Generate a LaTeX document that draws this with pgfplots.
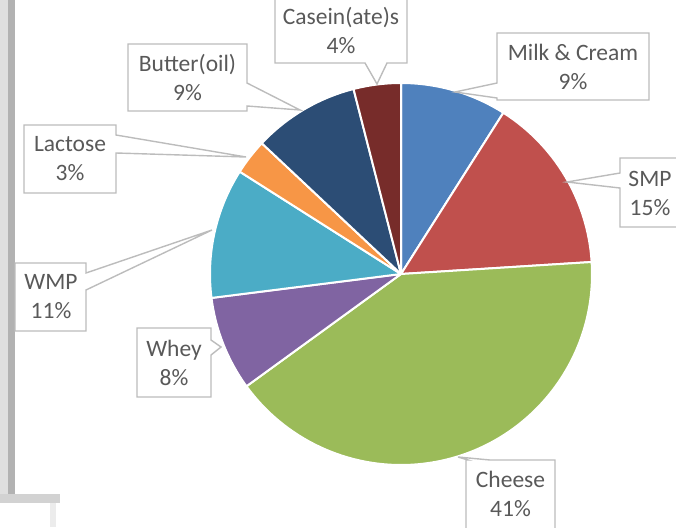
\documentclass[border=0pt]{standalone}
\usepackage{pgfplots}
\pgfplotsset{compat=1.18}
\usepackage{fontspec}
\setmainfont{Carlito}
\definecolor{milk}{HTML}{4F81BD}
\definecolor{smp}{HTML}{C0504D}
\definecolor{cheese}{HTML}{9BBB59}
\definecolor{whey}{HTML}{8064A2}
\definecolor{wmp}{HTML}{4BACC6}
\definecolor{lactose}{HTML}{F79646}
\definecolor{butter}{HTML}{2C4D75}
\definecolor{casein}{HTML}{772C2A}
\definecolor{lbltxt}{HTML}{595959}
\definecolor{lblbrd}{HTML}{BCBCBC}
\begin{document}
\begin{tikzpicture}
\begin{axis}[
  scale only axis, width=676pt, height=527pt,
  xmin=0, xmax=676, ymin=0, ymax=527, y dir=reverse,
  hide axis, clip=true,
]
% left gray frame remnants
\fill[gray!25] (axis cs:0,0) rectangle (axis cs:8,500);
\fill[gray!60] (axis cs:8,0) rectangle (axis cs:15,500);
\fill[gray!35] (axis cs:0,494) rectangle (axis cs:60,503);
\fill[gray!15] (axis cs:50,503) rectangle (axis cs:56,527);
\fill[white] (axis cs:0,503) rectangle (axis cs:50,527);
% pie slices (values in percent, clockwise from 12 o'clock)
\xdef\cum{0}
\foreach \v/\c in {9/milk,15/smp,41/cheese,8/whey,11/wmp,3/lactose,9/butter,4/casein}{
  \pgfmathsetmacro\a{90-3.6*\cum}
  \pgfmathsetmacro\b{90-3.6*(\cum+\v)}
  \edef\temp{\noexpand\fill[\c, draw=white, line width=2pt, line join=round] (axis cs:401,274) -- ++(\a:191pt) arc[start angle=\a, end angle=\b, radius=191pt] -- cycle;}
  \temp
  \pgfmathsetmacro\n{\cum+\v}
  \xdef\cum{\n}
}
% callouts
\tikzset{co/.style={fill=white, draw=lblbrd, line width=1.4pt, line join=miter}}
\tikzset{lb/.style={text=lbltxt, align=center, font=\fontsize{23.5}{29}\selectfont, inner sep=0pt}}
% Casein
\draw[co] (axis cs:275,-3) -- (axis cs:407,-3) -- (axis cs:407,63) -- (axis cs:387,63) -- (axis cs:377,84) -- (axis cs:365,63) -- (axis cs:275,63) -- cycle;
\node[lb] at (axis cs:341,31) {Casein(ate)s\\4\%};
% Milk & Cream
\draw[co] (axis cs:497,33) -- (axis cs:649,33) -- (axis cs:649,100) -- (axis cs:497,100) -- (axis cs:497,98) -- (axis cs:455,92) -- (axis cs:497,83) -- cycle;
\node[lb] at (axis cs:573,67) {Milk \& Cream\\9\%};
% SMP
\draw[co] (axis cs:620,158) -- (axis cs:685,158) -- (axis cs:685,227) -- (axis cs:620,227) -- (axis cs:620,188) -- (axis cs:567,182) -- (axis cs:620,173) -- cycle;
\node[lb] at (axis cs:650,193) {SMP\\15\%};
% Cheese
\draw[co] (axis cs:466,460) -- (axis cs:468,460) -- (axis cs:458,457) -- (axis cs:490,460) -- (axis cs:555,460) -- (axis cs:555,535) -- (axis cs:466,535) -- cycle;
\node[lb] at (axis cs:510.5,494) {Cheese\\41\%};
% Whey
\draw[co] (axis cs:137,328) -- (axis cs:211,328) -- (axis cs:211,340) -- (axis cs:221,347) -- (axis cs:211,355) -- (axis cs:211,397) -- (axis cs:137,397) -- cycle;
\node[lb] at (axis cs:174,363) {Whey\\8\%};
% WMP
\draw[co] (axis cs:15,263) -- (axis cs:86,263) -- (axis cs:86,273) -- (axis cs:212,230) -- (axis cs:86,290) -- (axis cs:86,331) -- (axis cs:15,331) -- cycle;
\node[lb] at (axis cs:51,297) {WMP\\11\%};
% Lactose
\draw[co] (axis cs:24,125) -- (axis cs:116,125) -- (axis cs:116,135) -- (axis cs:246,157) -- (axis cs:116,153) -- (axis cs:116,193) -- (axis cs:24,193) -- cycle;
\node[lb] at (axis cs:70,159) {Lactose\\3\%};
% Butter(oil)
\draw[co] (axis cs:128,44) -- (axis cs:247,44) -- (axis cs:247,83) -- (axis cs:300,110) -- (axis cs:247,106) -- (axis cs:247,111) -- (axis cs:128,111) -- cycle;
\node[lb] at (axis cs:187.5,78) {Butter(oil)\\9\%};
\end{axis}
\pgfresetboundingbox
\useasboundingbox (0,0) rectangle (676pt,527pt);
\end{tikzpicture}
\end{document}
